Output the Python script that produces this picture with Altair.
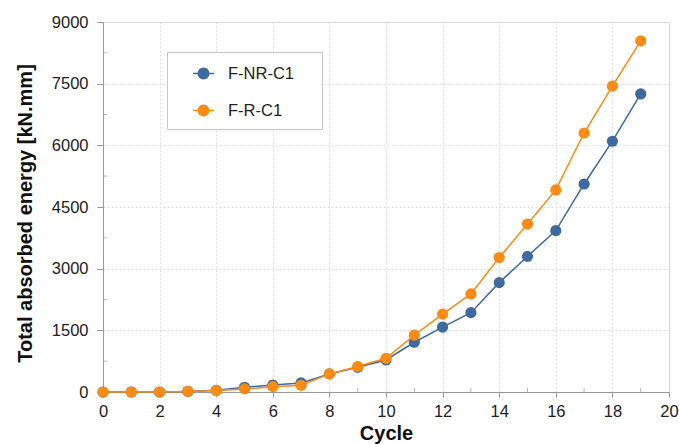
import altair as alt
import pandas as pd

# Cumulative absorbed energy per loading cycle
cycles = list(range(20))
f_nr_c1 = [0, 0, 0, 15, 40, 115, 170, 220, 440, 600, 780, 1210, 1580, 1930, 2660, 3300, 3925, 5060, 6100, 7250]
f_r_c1 = [0, 0, 0, 15, 35, 75, 130, 165, 440, 620, 820, 1385, 1895, 2385, 3270, 4085, 4915, 6300, 7440, 8540]
series_names = ["F-NR-C1", "F-R-C1"]
series_colors = ["#3e6a9f", "#ff8a14"]

x_ticks = list(range(0, 21, 2))
x_minor = list(range(1, 20, 2))
y_ticks = list(range(0, 9001, 1500))
y_minor = list(range(750, 9000, 1500))

rows = []
for name, vals in zip(series_names, [f_nr_c1, f_r_c1]):
    for c, v in zip(cycles, vals):
        rows.append({"Cycle": c, "Energy": v, "Series": name})
df = pd.DataFrame(rows)

FONT = "Liberation Sans"
AXIS_GREY = "#9a9a9a"
GRID_GREY = "#dedede"

x_scale = alt.Scale(domain=[0, 20], nice=False, zero=False)
y_scale = alt.Scale(domain=[0, 9000], nice=False)

color = alt.Color(
    "Series:N",
    scale=alt.Scale(domain=series_names, range=series_colors),
    legend=alt.Legend(
        title="\u2003",
        titleOrient="right",
        titlePadding=18,
        titleFontSize=16,
        orient="none",
        legendX=64,
        legendY=30,
        padding=10,
        rowPadding=17,
        symbolOffset=15,
        labelOffset=13,
        symbolType="M-1,0H1M0.5,0A0.5,0.5 0 1,1 -0.5,0A0.5,0.5 0 1,1 0.5,0Z",
        symbolSize=440,
        symbolStrokeWidth=1.5,
        labelFontSize=16.5,
        labelFont=FONT,
        labelColor="#222222",
        strokeColor="#c8c8c8",
        fillColor="white",
    ),
)

x_axis = alt.Axis(
    values=x_ticks,
    format="d",
    title="Cycle",
    grid=True,
    gridColor=GRID_GREY,
    gridDash=[2, 2],
    tickSize=5,
    tickColor=AXIS_GREY,
    domainColor=AXIS_GREY,
    labelPadding=6,
    labelFlush=False,
    titlePadding=4,
)
y_axis = alt.Axis(
    values=y_ticks,
    format="d",
    title="Total absorbed energy [kN.mm]",
    grid=True,
    gridColor=GRID_GREY,
    gridDash=[2, 2],
    tickSize=6,
    tickColor=AXIS_GREY,
    domainColor=AXIS_GREY,
    labelPadding=9,
    labelFlush=False,
    titlePadding=16,
    titleY=191,
)

base = alt.Chart(df).encode(
    x=alt.X("Cycle:Q", scale=x_scale, axis=x_axis),
    y=alt.Y("Energy:Q", scale=y_scale, axis=y_axis),
    color=color,
)

# short inner ticks between the labelled ones
minor_x = alt.Chart(pd.DataFrame({"m": x_minor})).mark_tick(
    orient="vertical", size=4, thickness=1, color=AXIS_GREY, yOffset=-2
).encode(x=alt.X("m:Q", scale=x_scale), y=alt.datum(0, scale=y_scale))

minor_y = alt.Chart(pd.DataFrame({"m": y_minor})).mark_tick(
    orient="horizontal", size=4, thickness=1, color=AXIS_GREY, xOffset=2
).encode(y=alt.Y("m:Q", scale=y_scale), x=alt.datum(0, scale=x_scale))

layers = []
for name in series_names:
    sub = base.transform_filter(alt.datum.Series == name)
    layers.append(sub.mark_line(strokeWidth=1.5))
    layers.append(sub.mark_circle(size=125, opacity=1))

chart = (
    alt.layer(minor_x, minor_y, *layers)
    .properties(
        width=566,
        height=370,
        autosize=alt.AutoSizeParams(type="none"),
        padding={"left": 103, "top": 22, "right": 10, "bottom": 52},
    )
    .configure_view(stroke="#dddddd", strokeWidth=1)
    .configure_axis(
        labelFont=FONT,
        labelFontSize=16.5,
        labelColor="#222222",
        titleFont=FONT,
        titleFontSize=20,
        titleFontWeight="bold",
        titleColor="#111111",
    )
)

chart.save("out.html", embed_options={"renderer": "svg", "actions": False})
